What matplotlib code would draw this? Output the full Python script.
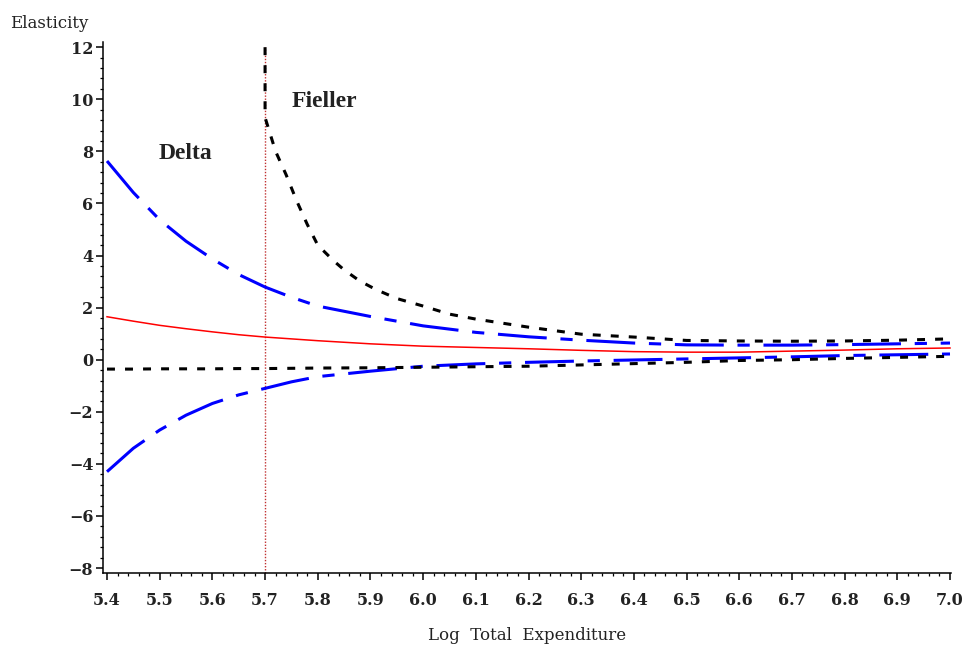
import matplotlib
matplotlib.use('Agg')
import matplotlib.pyplot as plt
from matplotlib.ticker import MultipleLocator, FuncFormatter

# grid for the delta curves and point estimate
x = [5.40, 5.45, 5.50, 5.55, 5.60, 5.65, 5.70, 5.75, 5.80, 5.90, 6.00,
     6.10, 6.20, 6.30, 6.40, 6.50, 6.60, 6.70, 6.80, 6.90, 7.00]
elasticity = [1.65, 1.48, 1.32, 1.19, 1.07, 0.96, 0.87, 0.80, 0.73, 0.61, 0.52,
              0.47, 0.42, 0.36, 0.31, 0.29, 0.29, 0.33, 0.37, 0.42, 0.45]
delta_upper = [7.63, 6.42, 5.37, 4.55, 3.87, 3.27, 2.79, 2.40, 2.06, 1.66, 1.30,
               1.05, 0.88, 0.75, 0.64, 0.57, 0.56, 0.56, 0.58, 0.61, 0.64]
delta_lower = [-4.30, -3.40, -2.70, -2.13, -1.68, -1.35, -1.10, -0.85, -0.65, -0.44, -0.25,
               -0.16, -0.10, -0.05, -0.01, 0.03, 0.07, 0.11, 0.16, 0.19, 0.22]
fieller_lower = [-0.36, -0.36, -0.35, -0.35, -0.35, -0.34, -0.34, -0.33, -0.32, -0.31, -0.29,
                 -0.27, -0.25, -0.20, -0.15, -0.10, -0.03, 0.00, 0.05, 0.09, 0.13]

# upper Fieller bound only exists to the right of 5.7
xf = [5.70, 5.70, 5.72, 5.74, 5.76, 5.78, 5.80, 5.83, 5.85, 5.88, 5.91, 5.95,
      6.00, 6.05, 6.10, 6.20, 6.30, 6.40, 6.50, 6.60, 6.70, 6.80, 6.90, 7.00]
fieller_upper = [12.0, 9.3, 8.0, 7.1, 6.1, 5.2, 4.4, 3.8, 3.45, 3.02, 2.7, 2.35,
                 2.06, 1.75, 1.56, 1.25, 0.98, 0.87, 0.74, 0.72, 0.71, 0.72, 0.75, 0.80]

x_cut = 5.7
x_ticks = [5.4, 5.5, 5.6, 5.7, 5.8, 5.9, 6.0, 6.1, 6.2, 6.3, 6.4, 6.5, 6.6, 6.7, 6.8, 6.9, 7.0]
y_ticks = [-8, -6, -4, -2, 0, 2, 4, 6, 8, 10, 12]

fig = plt.figure(figsize=(9.65, 6.45), dpi=100)
ax = fig.add_axes([103/965, 1 - 573/645, 848/965, 531/645])

ax.plot([x_cut, x_cut], [-8.19, 12], color='#c03030', lw=1.0, ls=(0, (1, 1.2)), zorder=1)
ax.plot(x, elasticity, color='red', lw=1.1, zorder=2)
blue_dash = (16, 4.5, 4, 4.5)
ax.plot(x, delta_upper, color='blue', lw=2.2, dashes=blue_dash, zorder=3)
ax.plot(x, delta_lower, color='blue', lw=2.2, dashes=blue_dash, zorder=3)
ax.plot(xf, fieller_upper, color='black', lw=2.2, dashes=(2.6, 3.3), zorder=4)
ax.plot(x, fieller_lower, color='black', lw=2.2, dashes=(2.6, 3.3), zorder=4)

ax.text(5.497, 7.9, 'Delta', fontsize=17, fontweight='bold', family='Liberation Serif',
        color='#222222', va='center', ha='left')
ax.text(5.751, 9.9, 'Fieller', fontsize=17, fontweight='bold', family='Liberation Serif',
        color='#222222', va='center', ha='left')

ax.set_xlim(5.3924, 7.0019)
ax.set_ylim(-8.19, 12.2)
ax.set_xticks(x_ticks)
ax.set_yticks(y_ticks)
ax.xaxis.set_minor_locator(MultipleLocator(0.02))
ax.yaxis.set_minor_locator(MultipleLocator(0.4))
ax.xaxis.set_major_formatter(FuncFormatter(lambda v, p: f'{v:.1f}'))
ax.yaxis.set_major_formatter(FuncFormatter(lambda v, p: f'{int(round(v))}'.replace('-', '\u2212')))

for s in ['top', 'right']:
    ax.spines[s].set_visible(False)
for s in ['left', 'bottom']:
    ax.spines[s].set_linewidth(1.1)

ax.tick_params(axis='both', which='major', length=5, width=1.1, direction='out')
ax.tick_params(axis='both', which='minor', length=2.5, width=0.9, direction='out')
ax.tick_params(axis='x', which='major', pad=9)
ax.tick_params(axis='y', which='major', pad=2)
for lab in ax.get_xticklabels() + ax.get_yticklabels():
    lab.set_family('DejaVu Serif')
    lab.set_fontweight('bold')
    lab.set_fontsize(11.5)
    lab.set_color('#222222')

ax.set_xlabel('Log  Total  Expenditure', family='DejaVu Serif', fontsize=12, labelpad=13,
              color='#222222')
fig.text(10/965, 1 - 24/645, 'Elasticity', family='DejaVu Serif', fontsize=12,
         va='center', ha='left', color='#222222')

fig.savefig('out.png', dpi=100)
